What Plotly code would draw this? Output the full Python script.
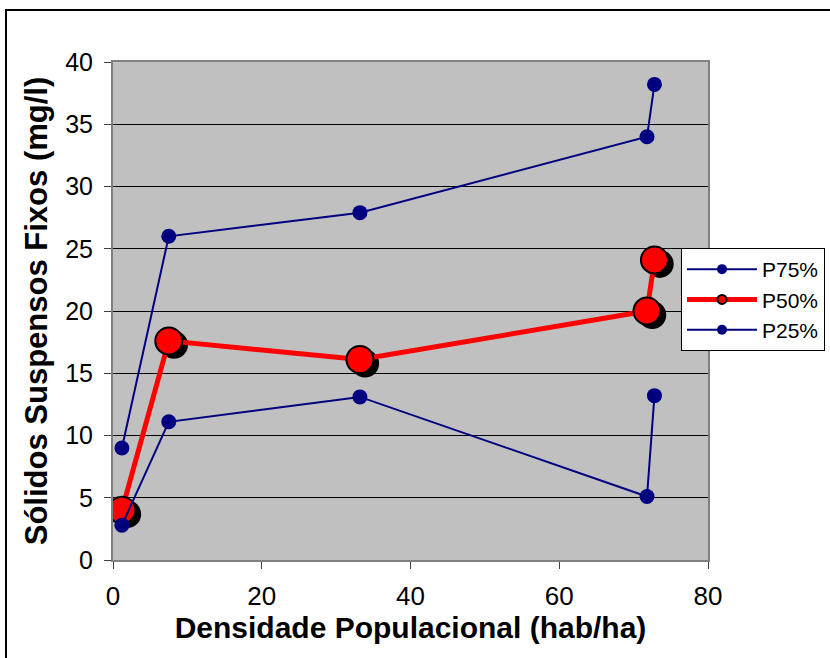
import plotly.graph_objects as go

# Data
x_vals = [1.2, 7.5, 33.2, 71.8, 72.8]
p75 = [9.0, 26.0, 27.9, 34.0, 38.2]
p50 = [4.0, 17.6, 16.1, 20.0, 24.1]
p25 = [2.8, 11.1, 13.1, 5.1, 13.2]
series_names = ["P75%", "P50%", "P25%"]
x_ticks = [0, 20, 40, 60, 80]
y_ticks = [0, 5, 10, 15, 20, 25, 30, 35, 40]

NAVY = "#000080"
FONT = "Arial, Liberation Sans, sans-serif"

fig = go.Figure()

# shadow of P50 markers (offset slightly down-right)
fig.add_trace(go.Scatter(
    x=[v + 0.7 for v in x_vals], y=[v - 0.32 for v in p50],
    mode="markers", marker=dict(size=28, color="black"),
    showlegend=False, hoverinfo="skip"))

fig.add_trace(go.Scatter(
    x=x_vals, y=p75, name=series_names[0], mode="lines+markers", showlegend=False,
    line=dict(color=NAVY, width=2), marker=dict(size=15, color=NAVY)))
fig.add_trace(go.Scatter(
    x=x_vals, y=p50, name=series_names[1], mode="lines+markers", showlegend=False,
    line=dict(color="red", width=5),
    marker=dict(size=27, color="red", line=dict(color="black", width=2))))
fig.add_trace(go.Scatter(
    x=x_vals, y=p25, name=series_names[2], mode="lines+markers", showlegend=False,
    line=dict(color=NAVY, width=2), marker=dict(size=15, color=NAVY)))

# legend entries (no data, just legend symbols)
fig.add_trace(go.Scatter(x=[None], y=[None], name=series_names[0], mode="lines+markers",
                         line=dict(color=NAVY, width=2), marker=dict(size=10, color=NAVY)))
fig.add_trace(go.Scatter(x=[None], y=[None], name=series_names[1], mode="lines+markers",
                         line=dict(color="red", width=5),
                         marker=dict(size=9, color="red", line=dict(color="black", width=2))))
fig.add_trace(go.Scatter(x=[None], y=[None], name=series_names[2], mode="lines+markers",
                         line=dict(color=NAVY, width=2), marker=dict(size=10, color=NAVY)))

fig.update_layout(
    width=830, height=658,
    margin=dict(l=113, r=122, t=62, b=98, autoexpand=False),
    paper_bgcolor="white", plot_bgcolor="#C0C0C0",
    font=dict(family=FONT, color="black", size=20),
    xaxis=dict(range=[0, 80], tickvals=x_ticks, showgrid=False, zeroline=False,
               showline=True, linecolor="#808080", linewidth=2, mirror=True,
               ticks="outside", ticklen=7, tickcolor="#404040",
               tickfont=dict(size=26), ticklabelstandoff=5,
               title=dict(text="<b>Densidade Populacional (hab/ha)</b>",
                          font=dict(size=30), standoff=6)),
    yaxis=dict(range=[0, 40], tickvals=y_ticks, showgrid=True, gridcolor="black",
               gridwidth=1, zeroline=False,
               showline=True, linecolor="#808080", linewidth=2, mirror=True,
               ticks="outside", ticklen=7, tickcolor="#404040",
               tickfont=dict(size=25), ticklabelstandoff=6,
               title=dict(text="<b>Sólidos Suspensos Fixos (mg/l)</b>",
                          font=dict(size=31), standoff=8)),
    legend=dict(x=(681 - 113) / 595, y=(560 - 248) / 498, xanchor="left", yanchor="top",
                bgcolor="white", bordercolor="black", borderwidth=1,
                font=dict(size=21), tracegroupgap=0, itemwidth=70),
    shapes=[dict(type="rect", xref="paper", yref="paper",
                 x0=(6 - 113) / 595, x1=(840 - 113) / 595,
                 y0=(560 - 670) / 498, y1=(560 - 10) / 498,
                 line=dict(color="black", width=2), fillcolor="rgba(0,0,0,0)",
                 layer="below")],
)

fig.write_html("out.html", config={"displayModeBar": False},
               post_script="document.body.style.margin='0';")
